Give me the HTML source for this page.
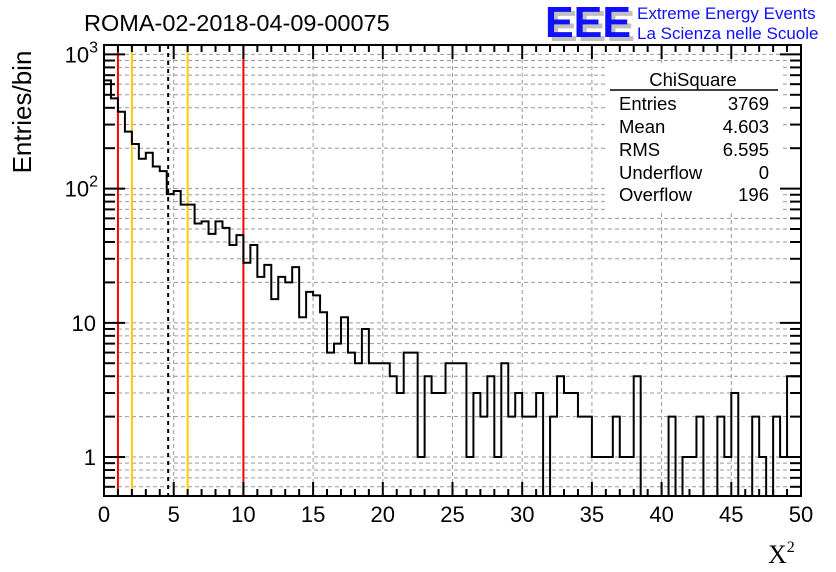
<!DOCTYPE html>
<html><head><meta charset="utf-8"><style>
body{margin:0;background:#fff;}
svg{display:block;font-family:"Liberation Sans",sans-serif;}
</style></head><body>
<svg id="c" width="836" height="572" viewBox="0 0 836 572" xmlns="http://www.w3.org/2000/svg">
<rect width="836" height="572" fill="#fff"/>
<g id="grid"></g>
<g id="vlines"></g>
<path id="hist" fill="none" stroke="#000" stroke-width="2"/>
<g id="ticks"></g>
<rect x="104" y="45" width="697" height="451" fill="none" stroke="#000" stroke-width="2"/>
<text x="84" y="31" font-size="23.5">ROMA-02-2018-04-09-00075</text>
<g>
<text x="549" y="41" font-size="44" font-weight="bold" fill="#c0c0c0" textLength="86" lengthAdjust="spacingAndGlyphs">EEE</text>
<text x="545" y="37" font-size="44" font-weight="bold" fill="#1010ff" textLength="86" lengthAdjust="spacingAndGlyphs">EEE</text>
<text x="637" y="19" font-size="17" fill="#1010ff">Extreme Energy Events</text>
<text x="637" y="39" font-size="17" fill="#1010ff">La Scienza nelle Scuole</text>
</g>
<g font-size="18.5">
<rect x="608" y="66" width="172" height="144" fill="#fff"/>
<text x="693" y="86" text-anchor="middle">ChiSquare</text>
<line x1="610" y1="90" x2="778" y2="90" stroke="#000" stroke-width="1.5"/>
<text x="619" y="110">Entries</text><text x="769" y="110" text-anchor="end">3769</text>
<text x="619" y="133">Mean</text><text x="769" y="133" text-anchor="end">4.603</text>
<text x="619" y="156">RMS</text><text x="769" y="156" text-anchor="end">6.595</text>
<text x="619" y="179">Underflow</text><text x="769" y="179" text-anchor="end">0</text>
<text x="619" y="201">Overflow</text><text x="769" y="201" text-anchor="end">196</text>
</g>
<g id="xlabels" font-size="22"></g>
<g id="ylabels" font-size="22"></g>
<text transform="translate(31,112) rotate(-90)" text-anchor="middle" font-size="26">Entries/bin</text>
<text x="768" y="563" font-size="26" font-family="Liberation Serif,serif">X<tspan font-size="16" dy="-11">2</tspan></text>
</svg>
<script>
const binCounts = [640,470,374,266,215,167,185,146,135,91,
96,76,76,55,57,46,57,51,38,45,
28,38,22,27,15,22,20,26,11,17,
16,12,6,7,11,6,5,9,5,5,
5,4,3,6,6,1,4,3,3,5,
5,5,1,3,2,4,1,5,2,3,
2,2,3,0,2,4,3,3,2,2,
1,1,1,2,1,1,4,0,0,0,
0,2,0,1,1,2,0,0,2,1,
3,0,0,2,1,0,2,1,4,4];
const xTicks = [0,5,10,15,20,25,30,35,40,45,50];
const refLines = [{x:1,c:'#ff0000',d:''},{x:2,c:'#ffcc00',d:''},{x:4.603,c:'#000',d:'4,4'},{x:6,c:'#ffcc00',d:''},{x:10,c:'#ff0000',d:''}];
const binWidth = 0.5;
const X0=104,X1=801,Y0=496,Y1=45;
const LMIN=-0.2904, LMAX=3.0700;
const NS='http://www.w3.org/2000/svg';
function sx(v){return X0+(v/50)*(X1-X0);}
function sy(v){if(v<=0)return Y0;const y=Y0-(Math.log10(v)-LMIN)/(LMAX-LMIN)*(Y0-Y1);return Math.min(Math.max(y,Y1),Y0);}
function el(t,a,p){const e=document.createElementNS(NS,t);for(const k in a)e.setAttribute(k,a[k]);p.appendChild(e);return e;}
const grid=document.getElementById('grid'),ticks=document.getElementById('ticks');
for(let d=-1;d<=3;d++){for(let m=1;m<=9;m++){const v=m*Math.pow(10,d);const l=Math.log10(v);if(l<LMIN||l>LMAX)continue;const y=sy(v);
const g=el('line',{x1:X0,x2:X1,y1:y,y2:y,stroke:'#999','stroke-dasharray':'4,3','stroke-width':1},grid);


const len=m===1?21:11;
el('line',{x1:X0,x2:X0+len,y1:y,y2:y,stroke:'#000','stroke-width':2},ticks);
el('line',{x1:X1-len,x2:X1,y1:y,y2:y,stroke:'#000','stroke-width':2},ticks);}}
xTicks.forEach(t=>{const x=sx(t);if(t>0&&t<50){const g=el('line',{x1:x,x2:x,y1:Y1,y2:Y0,stroke:'#999','stroke-dasharray':'4,3','stroke-width':1},grid);

}
const tx=el('text',{x:x,y:522,'text-anchor':'middle'},document.getElementById('xlabels'));tx.textContent=t;

});
for(let i=0;i<=50;i++){const x=sx(i);const len=i%5===0?14:7;
el('line',{x1:x,x2:x,y1:Y0,y2:Y0-len,stroke:'#000','stroke-width':2},ticks);
el('line',{x1:x,x2:x,y1:Y1,y2:Y1+len,stroke:'#000','stroke-width':2},ticks);}
const yl=document.getElementById('ylabels');
[[1000,'10','3'],[100,'10','2'],[10,'10',''],[1,'1','']].forEach(([v,b,e])=>{const t=el('text',{x:96,y:sy(v)+8,'text-anchor':'end'},yl);


if(e){t.textContent=b;const s=el('tspan',{'font-size':16,dy:-10},t);s.textContent=e;t.setAttribute('x',98);}else t.textContent=b;});
const vl=document.getElementById('vlines');
refLines.forEach(r=>{const x=sx(r.x);const a={x1:x,x2:x,y1:Y1,y2:Y0,stroke:r.c,'stroke-width':2};if(r.d)a['stroke-dasharray']=r.d;const l=el('line',a,vl);

});
let d='M'+sx(0)+','+Y0;
binCounts.forEach((c,i)=>{const y=sy(c);d+=' L'+sx(i*binWidth)+','+y+' L'+sx((i+1)*binWidth)+','+y;});
document.getElementById('hist').setAttribute('d',d);
</script>
</body></html>
